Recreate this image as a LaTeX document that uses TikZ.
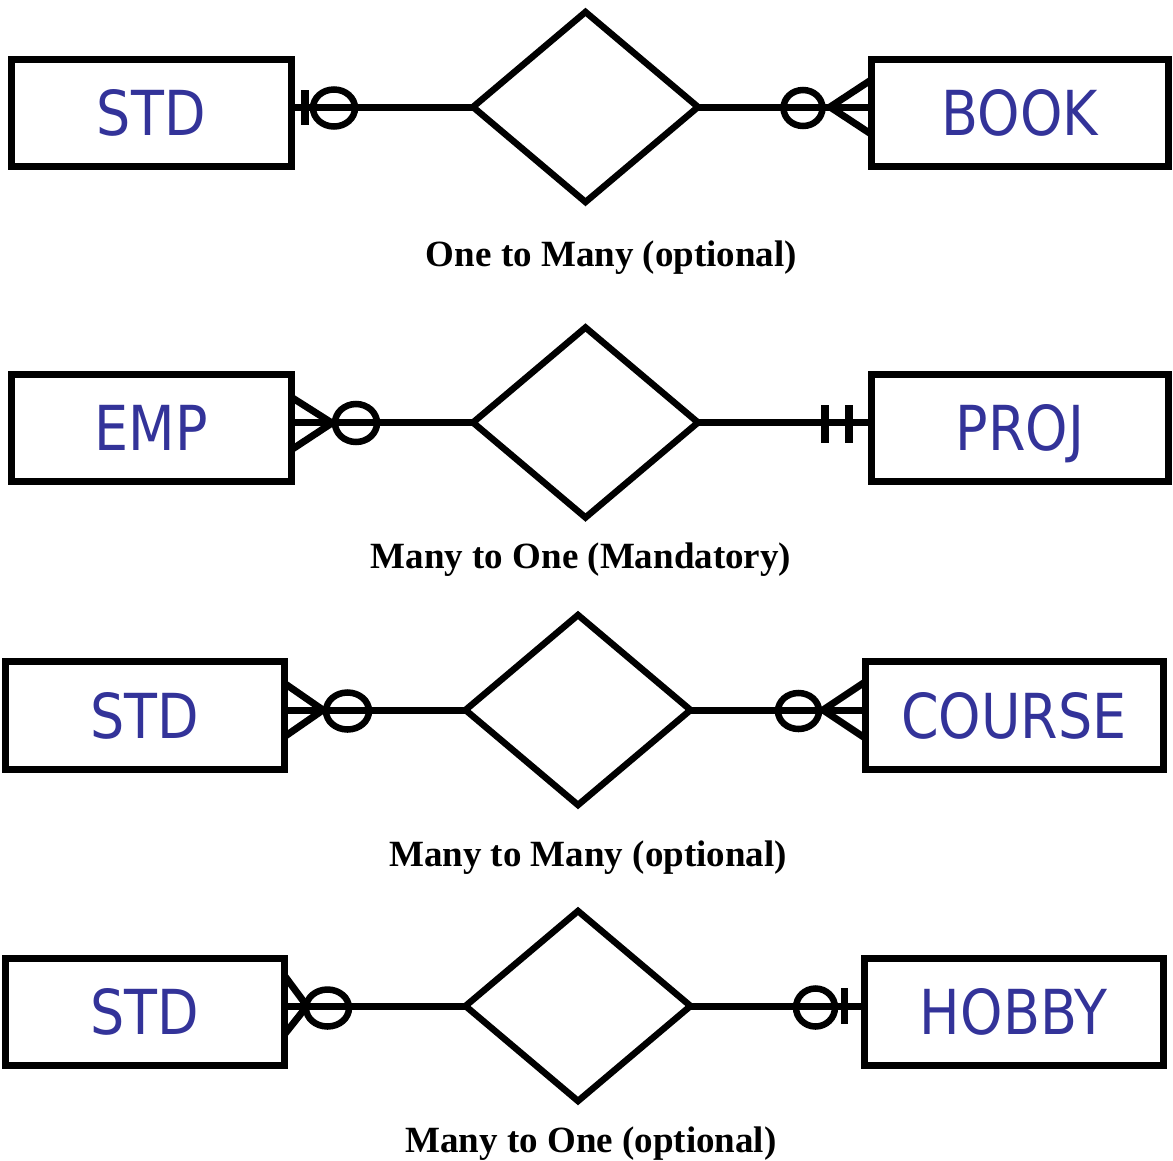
\documentclass[tikz,border=0pt]{standalone}
\usepackage{fontspec}
\usepackage{graphicx}
\usetikzlibrary{shapes.geometric}
\newfontfamily\entfont{DejaVu Sans}
\newfontfamily\labfont{Liberation Serif}
\definecolor{entblue}{HTML}{333399}
\newcommand{\entscale}[1]{\scalebox{0.87}[1]{#1}}
\begin{document}
\begin{tikzpicture}[x=1pt,y=-1pt,
 entity/.style={draw, line width=7pt, rectangle, inner sep=0pt, outer sep=0pt,
   minimum height=107pt, text=entblue, font=\entfont\fontsize{62}{62}\selectfont,
   text height=45pt, text depth=0pt},
 rel/.style={draw, diamond, line width=6.5pt, inner sep=0pt, outer sep=0pt,
   minimum width=225pt, minimum height=190pt},
 conn/.style={line width=7pt},
 ring/.style={line width=6.5pt},
 tick/.style={line width=7.5pt},
 lab/.style={font=\labfont\bfseries\fontsize{37}{37}\selectfont, anchor=base, inner sep=0pt}
]
\useasboundingbox (0,0) rectangle (1173,1160);

% Row 1
\node[entity, minimum width=279.5pt] (s1) at (151.25,113) {\entscale{STD}};
\node[entity, minimum width=297.5pt] (b1) at (1019.75,113) {\entscale{BOOK}};
\node[rel] (d1) at (585.5,107) {};
\draw[conn] (d1.west) -- (d1.west -| s1.east);
\draw[conn] (d1.east) -- (d1.east -| b1.west);
\draw[tick] (305,90) -- (305,125);
\draw[ring] (334,108) ellipse [x radius=21, y radius=18.5];
\draw[ring] (803,108) ellipse [x radius=19.5, y radius=18];
\coordinate (c1a) at (830,107);
\draw[conn] (c1a) -- (871,80);
\draw[conn] (c1a) -- (871,134);
\node[lab] (l1) at (611.5,266) {One to Many (optional)};

% Row 2
\node[entity, minimum width=279.5pt] (e2) at (151.25,428) {\entscale{EMP}};
\node[entity, minimum width=297pt] (p2) at (1020,428) {\entscale{PROJ}};
\node[rel] (d2) at (585.5,422.5) {};
\draw[conn] (d2.west) -- (d2.west -| e2.east);
\draw[conn] (d2.east) -- (d2.east -| p2.west);
\coordinate (c2a) at (332,423);
\draw[conn] (c2a) -- (291,397);
\draw[conn] (c2a) -- (291,450);
\draw[ring] (356,423) ellipse [x radius=21, y radius=19];
\draw[tick] (825,405) -- (825,443);
\draw[tick] (849,405) -- (849,443);
\node[lab] (l2) at (581,568) {Many to One (Mandatory)};

% Row 3
\node[entity, minimum width=279pt, minimum height=108pt] (s3) at (144.5,715.5) {\entscale{STD}};
\node[entity, minimum width=298pt, minimum height=108pt] (c3) at (1014,715.5) {\entscale{COURSE}};
\node[rel] (d3) at (578,710) {};
\draw[conn] (d3.west) -- (d3.west -| s3.east);
\draw[conn] (d3.east) -- (d3.east -| c3.west);
\coordinate (c3a) at (323,710);
\draw[conn] (c3a) -- (284,683);
\draw[conn] (c3a) -- (284,737);
\draw[ring] (347.5,711) ellipse [x radius=21.5, y radius=18.5];
\draw[ring] (798.5,711) ellipse [x radius=20.5, y radius=18];
\coordinate (c3b) at (823,710);
\draw[conn] (c3b) -- (865,682);
\draw[conn] (c3b) -- (865,738);
\node[lab] (l3) at (588,866) {Many to Many (optional)};

% Row 4
\node[entity, minimum width=279pt] (s4) at (144.5,1011.5) {\entscale{STD}};
\node[entity, minimum width=299pt] (h4) at (1013.5,1011.5) {\entscale{HOBBY}};
\node[rel] (d4) at (578,1006) {};
\draw[conn] (d4.west) -- (d4.west -| s4.east);
\draw[conn] (d4.east) -- (d4.east -| h4.west);
\coordinate (c4a) at (307,1006);
\draw[conn] (c4a) -- (284,975);
\draw[conn] (c4a) -- (284,1035);
\draw[ring] (327.5,1008) ellipse [x radius=21.5, y radius=18.5];
\draw[ring] (815.5,1007.5) ellipse [x radius=19.5, y radius=19];
\draw[tick] (844.5,988) -- (844.5,1024);
\node[lab] (l4) at (591,1152) {Many to One (optional)};
\end{tikzpicture}
\end{document}
